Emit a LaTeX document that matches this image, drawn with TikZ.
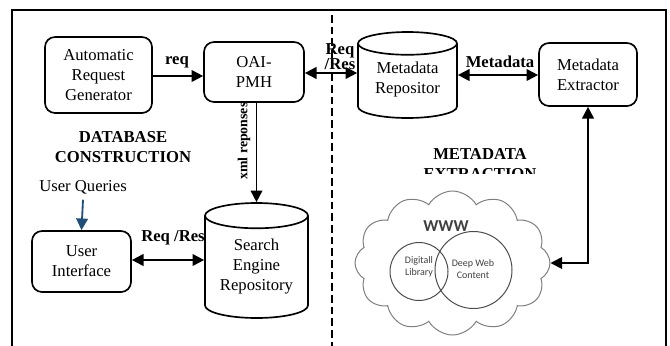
\documentclass[tikz,border=0pt]{standalone}
\usepackage{fontspec}
\setmainfont{Liberation Serif}
\newfontfamily\cloudfont{Carlito}
\usepackage{tikz}
\usetikzlibrary{positioning,shapes.geometric,shapes.symbols,arrows.meta}
\definecolor{qblue}{HTML}{1F4E79}
\definecolor{cloudgray}{HTML}{7F7F7F}

\begin{document}
\begin{tikzpicture}[%
	x=0.6pt, y=-0.6pt,
	>={Triangle[length=7pt,width=7pt]},
	every edge/.style={draw, line width=1.1pt},
	box/.style={draw, line width=1pt, rounded corners=6pt, align=center},
	repo/.style={draw, line width=1pt, cylinder, shape border rotate=90, aspect=0.3,
		anchor=shape center, text depth=7pt, align=center},
	lbl/.style={font=\bfseries, inner sep=1pt, align=center}
	]
	\useasboundingbox (0,0) rectangle (670,345);
	
	% frame and split line
	\draw[line width=1.2pt] (12,350) -- (12,10) -- (666,10) -- (666,350);
	\draw[line width=1pt, dash pattern=on 4.5pt off 2.5pt] (332,15) -- (332,350);
	
	\node[box, minimum width=64.2pt, minimum height=45.6pt] (gen) at (98.5,75) {Automatic\\Request\\Generator};
	
	\node[box, minimum width=60pt, minimum height=36pt] (oai) at (254,72) {OAI-\\PMH};
	
	\node[repo, minimum width=59.4pt, minimum height=51.6pt] (mrep) at (407.5,75) {Metadata\\Repositor};
	
	\node[box, minimum width=58.8pt, minimum height=37.8pt] (mext) at (588,74.5) {Metadata\\Extractor};
	
	\node[box, minimum width=59.4pt, minimum height=36.6pt] (ui) at (81.5,261.5) {User\\Interface};
	
	\node[repo, minimum width=61.8pt, minimum height=69pt] (ser) at (256.5,260.5) {Search\\Engine\\Repository};
	
	\node (uq) at (83,187) {User Queries};
	
	% web cloud
	\node[cloud, draw=cloudgray, line width=0.6pt, cloud puffs=12, cloud puff arc=120,
	minimum width=117pt, minimum height=86.4pt] (www) at (452.5,263) {};
	\node[font=\cloudfont\fontsize{10}{12}\selectfont\bfseries, text=black!75] (wtxt) at (446,226) {WWW};
	\node[circle, draw=black!70, line width=0.6pt, minimum size=34.8pt] (dl) at (419,271.5) {};
	\node[circle, draw=black!70, line width=0.6pt, minimum size=46.2pt] (dwc) at (473.5,270) {};
	\node[font=\cloudfont\fontsize{6}{7.5}\selectfont, text=black!75, align=center] at (419,267) {Digitall\\Library};
	\node[font=\cloudfont\fontsize{6}{7.5}\selectfont, text=black!75, align=center] at (473,269) {Deep Web\\Content};
	
	% section titles
	\node[lbl] (dbc) at (123,147) {DATABASE\\CONSTRUCTION};
	\begin{scope}
		\clip (400,130) rectangle (560,173);
		\node[lbl] (mde) at (480,164) {METADATA\\EXTRACTION};
	\end{scope}
	
	\path (gen.east |- 0,76) edge[->] (oai.west |- 0,76)
	(oai.east |- 0,73) edge[<->] (mrep.west |- 0,73)
	(mrep.east |- 0,75) edge[<->] (mext.west |- 0,75)
	(oai.south -| ser.north) edge[->] (ser.north)
	(ui.east |- 0,260) edge[<->] (ser.west |- 0,260)
	(www.east) edge[<->, to path={-| (\tikztotarget)}] (mext.south)
	(uq.south) edge[->, draw=qblue, qblue] (ui.north)
	;
	
	\node[lbl] at (177,62) {req};
	\node[lbl] at (340,57) {Req\\[-3pt]/Res};
	\node[lbl] at (500,62) {Metadata};
	\node[lbl] at (173,238) {Req /Res};
	\node[lbl, font=\fontsize{8.3}{10}\selectfont\bfseries, rotate=90] at (244,141) {xml reponses};
\end{tikzpicture}
\end{document}
